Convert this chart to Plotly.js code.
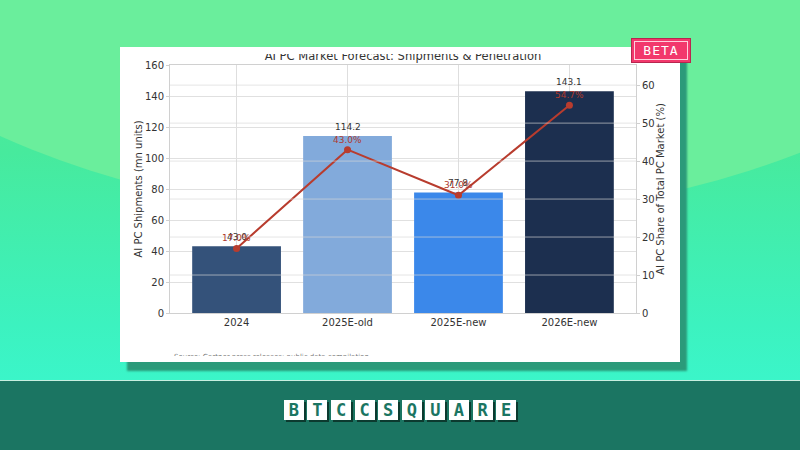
<!DOCTYPE html>
<html><head><meta charset="utf-8">
<script src="https://cdn.plot.ly/plotly-3.0.1.min.js"></script>
<style>
html,body{margin:0;padding:0;width:800px;height:450px;overflow:hidden;font-family:"DejaVu Sans",sans-serif;}
#bg{position:absolute;left:0;top:0;width:800px;height:380px;background:linear-gradient(180deg,#55eb99 0%,#47ea9d 40%,#3cf2bf 85%,#3bf5c9 100%);overflow:hidden;}
#arc{position:absolute;left:-280px;top:-620px;width:1400px;height:840px;border-radius:50%;background:#6aee9c;}
#footer{position:absolute;left:0;top:380px;width:800px;height:70px;background:#1b7562;border-top:1px solid #c6efe0;}
#card{position:absolute;left:120px;top:47px;width:560px;height:315px;background:#fff;box-shadow:7px 9px 2px #2b9a7a;}
#clip{position:absolute;left:0;top:7px;width:560px;height:302px;overflow:hidden;}
#chart{position:absolute;left:0;top:-14px;width:560px;height:330px;}
#beta{position:absolute;left:631px;top:38px;width:58px;height:23px;background:#f2386c;border:1px solid #b8264f;box-shadow:inset 0 0 0 2px #f2386c,inset 0 0 0 3px #ffd0dc;color:#fff;font-family:"DejaVu Sans Mono",monospace;font-size:13px;line-height:23px;text-align:center;letter-spacing:1px;}
#logo{position:absolute;left:0;top:400px;width:800px;text-align:center;font-size:0;}
#logo span{display:inline-block;width:20px;height:20px;margin:0 1.8px;background:#fff;color:#1b7562;font-family:"DejaVu Sans Mono",monospace;font-weight:bold;font-size:17px;line-height:20px;text-align:center;box-shadow:2px 2px 0 #0c3a2f;}
</style></head>
<body>
<div id="bg"><div id="arc"></div></div>
<div id="footer"></div>
<div id="card"><div id="clip"><div id="chart"></div></div></div>
<div id="beta">BETA</div>
<div id="logo"></div>
<script>
const categories = ['2024', '2025E-old', '2025E-new', '2026E-new'];
const shipments = [43.0, 114.2, 77.8, 143.1];
const sharePct = [17.0, 43.0, 31.0, 54.7];
const barColors = ['#34527a', '#82aadb', '#3b88ea', '#1c2f4f'];
const leftTicks = [0, 20, 40, 60, 80, 100, 120, 140, 160];
const rightTicks = [0, 10, 20, 30, 40, 50, 60];
const titleText = 'AI PC Market Forecast: Shipments & Penetration';
const leftTitle = 'AI PC Shipments (mn units)';
const rightTitle = 'AI PC Share of Total PC Market (%)';
const sourceText = 'Source: Gartner press releases; public data compilation';
const logoText = 'BTCCSQUARE';

document.getElementById('logo').innerHTML = logoText.split('').map(c => '<span>' + c + '</span>').join('');

const font = 'DejaVu Sans, sans-serif';
const traces = [
  {type: 'bar', x: categories, y: shipments, marker: {color: barColors}, width: 0.8, hoverinfo: 'none'},
  {type: 'scatter', x: categories, y: sharePct, yaxis: 'y2', mode: 'lines+markers',
   line: {color: '#b83c2e', width: 2}, marker: {color: '#b83c2e', size: 7}, hoverinfo: 'none'}
];

const annotations = [];
categories.forEach((c, i) => {
  annotations.push({x: i, y: shipments[i], xref: 'x', yref: 'y', text: shipments[i].toFixed(1),
    showarrow: false, yanchor: 'bottom', yshift: 2, font: {family: font, size: 9, color: '#333'}});
  annotations.push({x: i, y: sharePct[i], xref: 'x', yref: 'y2', text: sharePct[i].toFixed(1) + '%',
    showarrow: false, yanchor: 'bottom', yshift: 3, font: {family: font, size: 9, color: '#b03a2e'}});
});
annotations.push({xref: 'paper', yref: 'paper', x: 0, y: 0, xanchor: 'left', yanchor: 'top',
  xshift: 2, yshift: -38, text: sourceText, showarrow: false, font: {family: font, size: 7, color: '#777'}});

const shapes = rightTicks.filter(v => v > 0).map(v => ({type: 'line', xref: 'paper', x0: 0, x1: 1,
  yref: 'y2', y0: v, y1: v, layer: 'above', line: {color: 'rgba(215,215,215,0.65)', width: 1}}));

const layout = {
  width: 560, height: 330,
  margin: {l: 50, r: 44, t: 25, b: 57},
  paper_bgcolor: '#ffffff', plot_bgcolor: '#ffffff',
  showlegend: false,
  font: {family: font, color: '#333'},
  title: {text: titleText, font: {family: font, size: 11.5, color: '#333'},
    xref: 'paper', x: 0.5, yref: 'paper', y: 1, yanchor: 'bottom', pad: {b: 5}},
  xaxis: {type: 'category', range: [-0.6, 3.6], showgrid: true, gridcolor: '#dedede', gridwidth: 1,
    tickfont: {family: font, size: 10, color: '#333'}, ticks: '', showline: true, linecolor: '#d0d0d0',
    mirror: true, zeroline: false, fixedrange: true},
  yaxis: {range: [0, 160], tickvals: leftTicks, showgrid: true, gridcolor: '#e0e0e0', gridwidth: 1,
    tickfont: {family: font, size: 10, color: '#333'}, ticks: 'outside', ticklen: 3, tickcolor: '#d0d0d0',
    showline: true, linecolor: '#d0d0d0', mirror: true, zeroline: false,
    title: {text: leftTitle, font: {family: font, size: 10, color: '#333'}, standoff: 0}},
  yaxis2: {range: [0, 65.3], tickvals: rightTicks, overlaying: 'y', side: 'right', showgrid: false,
    tickfont: {family: font, size: 10, color: '#333'}, ticks: 'outside', ticklen: 3, tickcolor: '#d0d0d0',
    showline: true, linecolor: '#d0d0d0', zeroline: false,
    title: {text: rightTitle, font: {family: font, size: 10, color: '#333'}, standoff: 3}},
  annotations: annotations,
  shapes: shapes
};

Plotly.newPlot('chart', traces, layout, {displayModeBar: false, staticPlot: true});
</script>
</body></html>
